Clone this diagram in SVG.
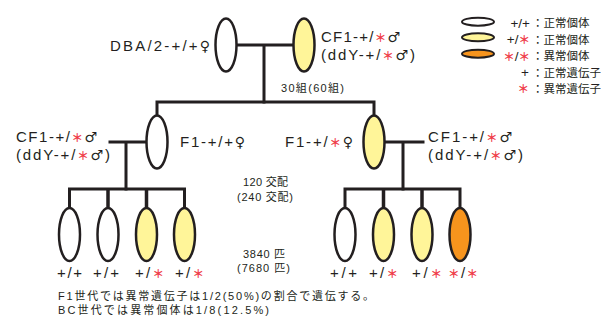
<svg xmlns="http://www.w3.org/2000/svg" width="601" height="320" viewBox="0 0 601 320">
  <style>
    .ind { stroke: #231f20; stroke-width: 2.5; }
    .nor { fill: #ffffff; }
    .het { fill: #fff599; }
    .hom { fill: #f7941d; }
    .ln { stroke: #231f20; stroke-width: 3; fill: none; stroke-linecap: square; }
    .drop { stroke: #231f20; stroke-width: 3.5; fill: none; }
    text { font-family: "Liberation Sans", "Noto Sans CJK JP", sans-serif; fill: #231f20; }
    .lab { font-size: 15px; }
    .sm { font-size: 11px; }
    .note { font-size: 11px; }
    .leg { font-size: 11.5px; }
    .ast { fill: #ef3e4a; font-family: "Noto Sans CJK JP", sans-serif; font-weight: 700; font-size: 11.5px; }
    .sym { font-family: "DejaVu Sans", sans-serif; font-size: 14px; }
    .cjk { font-family: "Noto Sans CJK JP", sans-serif; }
  </style>

  <!-- pedigree lines -->
  <g id="connectors">
    <path class="ln" d="M237 45 H293 M264 45 V102"/>
    <path class="ln" d="M157 115 V102 H374 V115"/>
    <path class="ln" d="M110 142 H147 M126 142 V189"/>
    <path class="ln" d="M69.5 207 V189 H184.5 V207"/>
    <path class="drop" d="M108 189 V207 M146.5 189 V207"/>
    <path class="ln" d="M385 142 H423 M403 142 V189"/>
    <path class="ln" d="M345 207 V189 H460 V207"/>
    <path class="drop" d="M383.5 189 V207 M422 189 V207"/>
  </g>

  <!-- parents -->
  <g id="dba-female">
    <ellipse class="ind nor" cx="226" cy="45" rx="10.5" ry="26.5"/>
    <text class="lab" x="110" y="51" textLength="100" lengthAdjust="spacing">DBA/2-+/+<tspan class="sym">♀</tspan></text>
  </g>
  <g id="cf1-male-top">
    <ellipse class="ind het" cx="304" cy="45" rx="10.5" ry="26.5"/>
    <text class="lab" x="321" y="42" textLength="79" lengthAdjust="spacing">CF1-+/<tspan class="ast">＊</tspan><tspan class="sym">♂</tspan></text>
    <text class="lab" x="321" y="60" textLength="94" lengthAdjust="spacing">(ddY-+/<tspan class="ast">＊</tspan><tspan class="sym">♂</tspan>)</text>
  </g>
  <text class="sm" x="281" y="92" textLength="63" lengthAdjust="spacing">30<tspan class="cjk">組</tspan>(60<tspan class="cjk">組</tspan>)</text>

  <!-- F1 generation -->
  <g id="f1-normal-female">
    <ellipse class="ind nor" cx="157" cy="142" rx="10.5" ry="26.5"/>
    <text class="lab" x="180" y="147" textLength="65" lengthAdjust="spacing">F1-+/+<tspan class="sym">♀</tspan></text>
  </g>
  <g id="cf1-male-left">
    <text class="lab" x="16" y="142" textLength="81" lengthAdjust="spacing">CF1-+/<tspan class="ast">＊</tspan><tspan class="sym">♂</tspan></text>
    <text class="lab" x="16" y="160" textLength="94" lengthAdjust="spacing">(ddY-+/<tspan class="ast">＊</tspan><tspan class="sym">♂</tspan>)</text>
  </g>
  <g id="f1-carrier-female">
    <ellipse class="ind het" cx="374" cy="142" rx="10.5" ry="26.5"/>
    <text class="lab" x="285" y="147" textLength="68" lengthAdjust="spacing">F1-+/<tspan class="ast">＊</tspan><tspan class="sym">♀</tspan></text>
  </g>
  <g id="cf1-male-right">
    <text class="lab" x="428" y="142" textLength="84" lengthAdjust="spacing">CF1-+/<tspan class="ast">＊</tspan><tspan class="sym">♂</tspan></text>
    <text class="lab" x="428" y="160" textLength="95" lengthAdjust="spacing">(ddY-+/<tspan class="ast">＊</tspan><tspan class="sym">♂</tspan>)</text>
  </g>

  <text class="sm" x="243" y="186" textLength="45" lengthAdjust="spacing">120 <tspan class="cjk">交配</tspan></text>
  <text class="sm" x="237" y="200.5" textLength="56" lengthAdjust="spacing">(240 <tspan class="cjk">交配</tspan>)</text>
  <text class="sm" x="243" y="257.5" textLength="42" lengthAdjust="spacing">3840 <tspan class="cjk">匹</tspan></text>
  <text class="sm" x="237" y="272" textLength="53" lengthAdjust="spacing">(7680 <tspan class="cjk">匹</tspan>)</text>

  <!-- backcross offspring, left family -->
  <g id="bc-l1">
    <ellipse class="ind nor" cx="69.5" cy="234.5" rx="10.5" ry="26.5"/>
    <text class="lab" x="57" y="278" textLength="25" lengthAdjust="spacing">+/+</text>
  </g>
  <g id="bc-l2">
    <ellipse class="ind nor" cx="108" cy="234.5" rx="10.5" ry="26.5"/>
    <text class="lab" x="93" y="278" textLength="26" lengthAdjust="spacing">+/+</text>
  </g>
  <g id="bc-l3">
    <ellipse class="ind het" cx="146.5" cy="234.5" rx="10.5" ry="26.5"/>
    <text class="lab" x="135" y="278" textLength="29" lengthAdjust="spacing">+/<tspan class="ast">＊</tspan></text>
  </g>
  <g id="bc-l4">
    <ellipse class="ind het" cx="184.5" cy="234.5" rx="10.5" ry="26.5"/>
    <text class="lab" x="175" y="278" textLength="29" lengthAdjust="spacing">+/<tspan class="ast">＊</tspan></text>
  </g>

  <!-- backcross offspring, right family -->
  <g id="bc-r1">
    <ellipse class="ind nor" cx="345" cy="234.5" rx="10.5" ry="26.5"/>
    <text class="lab" x="330" y="278" textLength="27" lengthAdjust="spacing">+/+</text>
  </g>
  <g id="bc-r2">
    <ellipse class="ind het" cx="383.5" cy="234.5" rx="10.5" ry="26.5"/>
    <text class="lab" x="369" y="278" textLength="29" lengthAdjust="spacing">+/<tspan class="ast">＊</tspan></text>
  </g>
  <g id="bc-r3">
    <ellipse class="ind het" cx="422" cy="234.5" rx="10.5" ry="26.5"/>
    <text class="lab" x="412" y="278" textLength="30" lengthAdjust="spacing">+/<tspan class="ast">＊</tspan></text>
  </g>
  <g id="bc-r4">
    <ellipse class="ind hom" cx="460" cy="234.5" rx="10.5" ry="26.5"/>
    <text class="lab" x="448" y="278" textLength="30" lengthAdjust="spacing"><tspan class="ast">＊</tspan>/<tspan class="ast">＊</tspan></text>
  </g>

  <!-- notes -->
  <text class="note" x="58" y="299.5" textLength="316" lengthAdjust="spacing">F1<tspan class="cjk">世代では異常遺伝子は</tspan>1/2(50%)<tspan class="cjk">の割合で遺伝する。</tspan></text>
  <text class="note" x="58" y="314" textLength="211" lengthAdjust="spacing">BC<tspan class="cjk">世代では異常個体は</tspan>1/8(12.5%)</text>

  <!-- legend -->
  <g id="legend">
    <ellipse class="nor" cx="478" cy="21.7" rx="16" ry="4" stroke="#231f20" stroke-width="2"/>
    <ellipse class="het" cx="478" cy="37.3" rx="16" ry="4" stroke="#231f20" stroke-width="2"/>
    <ellipse class="hom" cx="478" cy="53.7" rx="16" ry="4" stroke="#231f20" stroke-width="2"/>
    <text x="530" y="27.5" text-anchor="end" font-size="13.5">+/+</text>
    <text x="530" y="44" text-anchor="end" font-size="13.5">+/<tspan class="ast" font-size="10.5">＊</tspan></text>
    <text x="530" y="60.5" text-anchor="end" font-size="13.5"><tspan class="ast" font-size="10.5">＊</tspan>/<tspan class="ast" font-size="10.5">＊</tspan></text>
    <text x="529" y="77" text-anchor="end" font-size="13.5">+</text>
    <text x="529" y="93" text-anchor="end" font-size="13.5"><tspan class="ast" font-size="10.5">＊</tspan></text>
    <text class="leg cjk" x="532" y="27">：正常個体</text>
    <text class="leg cjk" x="532" y="43.5">：正常個体</text>
    <text class="leg cjk" x="532" y="60">：異常個体</text>
    <text class="leg cjk" x="532" y="76.5">：正常遺伝子</text>
    <text class="leg cjk" x="532" y="93">：異常遺伝子</text>
  </g>
</svg>
